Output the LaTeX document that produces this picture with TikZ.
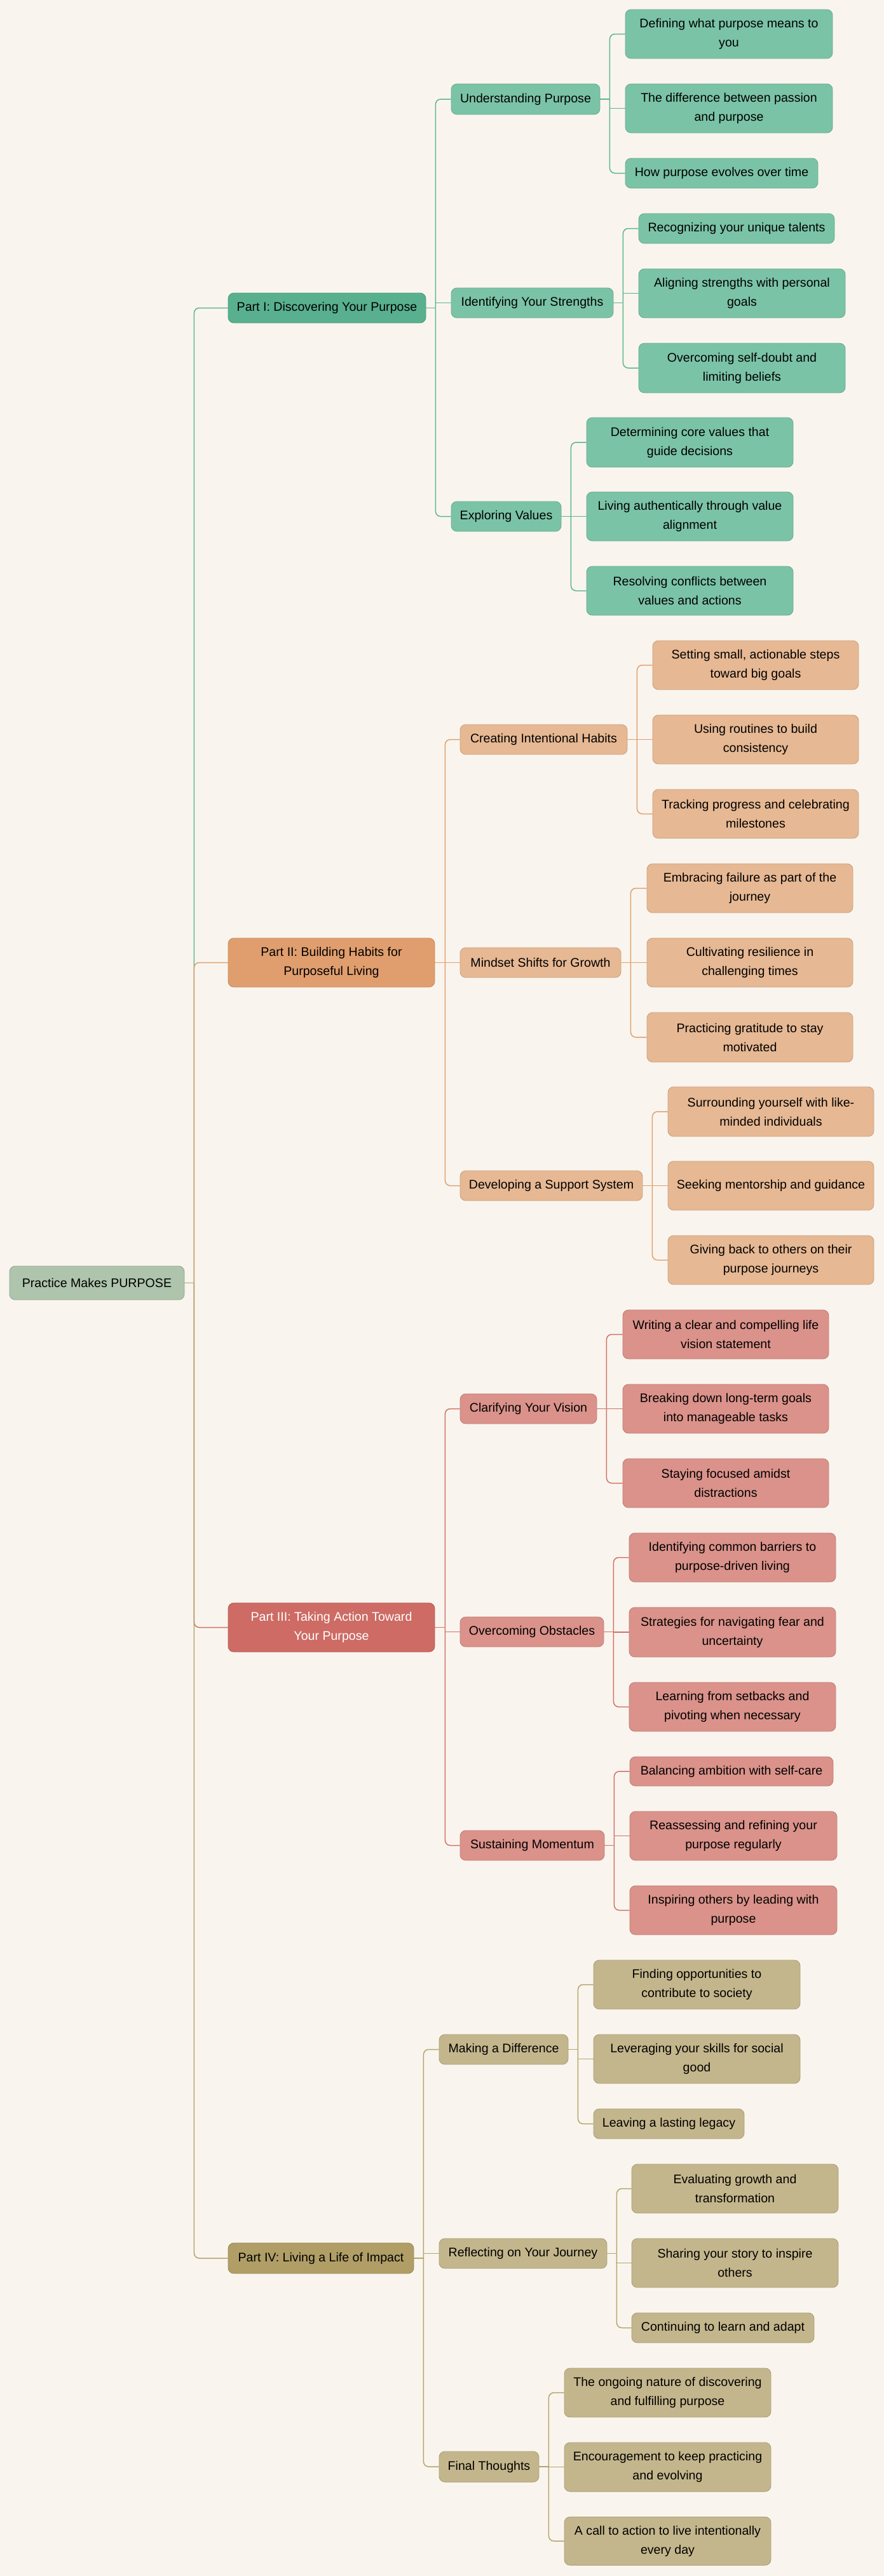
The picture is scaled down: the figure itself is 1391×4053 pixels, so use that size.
\documentclass[tikz,border=0pt]{standalone}
\usepackage{fontspec}
\setmainfont{Liberation Sans}
\usetikzlibrary{positioning}
\definecolor{bgc}{HTML}{F9F5EE}
\definecolor{rootF}{HTML}{AEC4AC}
\definecolor{gP}{HTML}{58B08E}
\definecolor{gC}{HTML}{7BC3A6}
\definecolor{gL}{HTML}{5DB592}
\definecolor{oP}{HTML}{E09E6E}
\definecolor{oC}{HTML}{E6B893}
\definecolor{oL}{HTML}{E0A06F}
\definecolor{rP}{HTML}{CD6B64}
\definecolor{rC}{HTML}{DA928A}
\definecolor{rL}{HTML}{D0716A}
\definecolor{yP}{HTML}{B09E66}
\definecolor{yC}{HTML}{C4B68C}
\definecolor{yL}{HTML}{B5A46D}
\pgfdeclarelayer{bg}
\pgfdeclarelayer{lines}
\pgfsetlayers{bg,lines,main}
\tikzset{
  box/.style={rounded corners=9pt, inner sep=0pt, align=center, line width=0.9pt,
    font=\fontsize{19.6}{30}\selectfont, text=black},
  rootbox/.style={box, fill=rootF, draw=rootF!85!black},
  gpart/.style={box, fill=gP, draw=gP!88!black},
  gchild/.style={box, fill=gC, draw=gC!88!black},
  opart/.style={box, fill=oP, draw=oP!88!black},
  ochild/.style={box, fill=oC, draw=oC!88!black},
  rpart/.style={box, fill=rP, draw=rP!88!black, text=white},
  rchild/.style={box, fill=rC, draw=rC!88!black},
  ypart/.style={box, fill=yP, draw=yP!88!black},
  ychild/.style={box, fill=yC, draw=yC!88!black},
  conn/.style={line width=1.5pt, rounded corners=8pt},
}
% name, xl, xr, yt, yb, style, text
\newcommand{\bx}[7]{\node[#6, minimum width={(#3)-(#2)}, minimum height={(#5)-(#4)}] (#1) at ({((#2)+(#3))/2},{((#4)+(#5))/2}) {#7};}
% parent, first, middle, last, color, stub length
\newcommand{\fan}[6]{%
  \draw[conn,#5] (#1.east) -- ++(#6,0);
  \draw[conn,#5] (#1.east) ++(#6,0) |- (#2.west);
  \draw[conn,#5] (#1.east) ++(#6,0) |- (#4.west);
  \draw[conn,#5] (#3.west) -- ++(-25,0);}
\begin{document}
\begin{tikzpicture}[x=1pt,y=-1pt]
\begin{pgfonlayer}{bg}
\fill[bgc] (0,0) rectangle (1391,4053);
\end{pgfonlayer}
\useasboundingbox (0,0) rectangle (1391,4053);

\bx{root}{15}{290}{1992}{2045}{rootbox}{Practice Makes PURPOSE}

% Part I
\bx{p1}{359}{670}{461}{508}{gpart}{Part I: Discovering Your Purpose}
\bx{up}{710}{944}{132}{180}{gchild}{Understanding Purpose}
\bx{up1}{984}{1310}{15}{92}{gchild}{Defining what purpose means to\\you}
\bx{up2}{984}{1310}{132}{209}{gchild}{The difference between passion\\and purpose}
\bx{up3}{984}{1287}{249}{296}{gchild}{How purpose evolves over time}
\bx{is}{710}{965}{453}{500}{gchild}{Identifying Your Strengths}
\bx{is1}{1005}{1313}{336}{383}{gchild}{Recognizing your unique talents}
\bx{is2}{1005}{1330}{423}{500}{gchild}{Aligning strengths with personal\\goals}
\bx{is3}{1005}{1330}{540}{618}{gchild}{Overcoming self-doubt and\\limiting beliefs}
\bx{ev}{710}{883}{789}{836}{gchild}{Exploring Values}
\bx{ev1}{923}{1248}{657}{735}{gchild}{Determining core values that\\guide decisions}
\bx{ev2}{923}{1248}{774}{851}{gchild}{Living authentically through value\\alignment}
\bx{ev3}{923}{1248}{891}{968}{gchild}{Resolving conflicts between\\values and actions}

% Part II
\bx{p2}{359}{684}{1476}{1553}{opart}{Part II: Building Habits for\\Purposeful Living}
\bx{ci}{724}{987}{1140}{1187}{ochild}{Creating Intentional Habits}
\bx{ci1}{1027}{1351}{1008}{1085}{ochild}{Setting small, actionable steps\\toward big goals}
\bx{ci2}{1027}{1351}{1125}{1202}{ochild}{Using routines to build\\consistency}
\bx{ci3}{1027}{1351}{1242}{1319}{ochild}{Tracking progress and celebrating\\milestones}
\bx{ms}{724}{977}{1491}{1538}{ochild}{Mindset Shifts for Growth}
\bx{ms1}{1018}{1342}{1359}{1436}{ochild}{Embracing failure as part of the\\journey}
\bx{ms2}{1018}{1342}{1476}{1553}{ochild}{Cultivating resilience in\\challenging times}
\bx{ms3}{1018}{1342}{1593}{1671}{ochild}{Practicing gratitude to stay\\motivated}
\bx{ds}{724}{1011}{1842}{1889}{ochild}{Developing a Support System}
\bx{ds1}{1051}{1375}{1710}{1788}{ochild}{Surrounding yourself with like-\\minded individuals}
\bx{ds2}{1051}{1375}{1827}{1904}{ochild}{Seeking mentorship and guidance}
\bx{ds3}{1051}{1375}{1944}{2021}{ochild}{Giving back to others on their\\purpose journeys}

% Part III
\bx{p3}{359}{684}{2522}{2599}{rpart}{Part III: Taking Action Toward\\Your Purpose}
\bx{cv}{724}{939}{2193}{2240}{rchild}{Clarifying Your Vision}
\bx{cv1}{980}{1304}{2061}{2138}{rchild}{Writing a clear and compelling life\\vision statement}
\bx{cv2}{980}{1304}{2178}{2255}{rchild}{Breaking down long-term goals\\into manageable tasks}
\bx{cv3}{980}{1304}{2295}{2372}{rchild}{Staying focused amidst\\distractions}
\bx{oo}{724}{950}{2544}{2591}{rchild}{Overcoming Obstacles}
\bx{oo1}{990}{1315}{2412}{2489}{rchild}{Identifying common barriers to\\purpose-driven living}
\bx{oo2}{990}{1315}{2529}{2607}{rchild}{Strategies for navigating fear and\\uncertainty}
\bx{oo3}{990}{1315}{2647}{2724}{rchild}{Learning from setbacks and\\pivoting when necessary}
\bx{sm}{724}{951}{2880}{2927}{rchild}{Sustaining Momentum}
\bx{sm1}{991}{1311}{2764}{2810}{rchild}{Balancing ambition with self-care}
\bx{sm2}{991}{1317}{2850}{2927}{rchild}{Reassessing and refining your\\purpose regularly}
\bx{sm3}{991}{1317}{2967}{3044}{rchild}{Inspiring others by leading with\\purpose}

% Part IV
\bx{p4}{359}{651}{3529}{3577}{ypart}{Part IV: Living a Life of Impact}
\bx{md}{691}{894}{3201}{3248}{ychild}{Making a Difference}
\bx{md1}{934}{1259}{3084}{3161}{ychild}{Finding opportunities to\\contribute to society}
\bx{md2}{934}{1259}{3201}{3278}{ychild}{Leveraging your skills for social\\good}
\bx{md3}{934}{1171}{3318}{3365}{ychild}{Leaving a lasting legacy}
\bx{rj}{691}{955}{3522}{3569}{ychild}{Reflecting on Your Journey}
\bx{rj1}{994}{1319}{3405}{3482}{ychild}{Evaluating growth and\\transformation}
\bx{rj2}{994}{1319}{3522}{3599}{ychild}{Sharing your story to inspire\\others}
\bx{rj3}{994}{1281}{3639}{3686}{ychild}{Continuing to learn and adapt}
\bx{ft}{691}{848}{3857}{3905}{ychild}{Final Thoughts}
\bx{ft1}{888}{1213}{3726}{3803}{ychild}{The ongoing nature of discovering\\and fulfilling purpose}
\bx{ft2}{888}{1213}{3843}{3920}{ychild}{Encouragement to keep practicing\\and evolving}
\bx{ft3}{888}{1213}{3960}{4036}{ychild}{A call to action to live intentionally\\every day}

\begin{pgfonlayer}{lines}
% Part I
\draw[conn,gL] (root.east) -- ++(15,0);
\draw[conn,gL] (root.east) ++(15,0) |- (p1.west);
\draw[conn,gL] (p1.east) -- ++(15,0);
\draw[conn,gL] (p1.east) ++(15,0) |- (up.west);
\draw[conn,gL] (p1.east) ++(15,0) |- (ev.west);
\draw[conn,gL] (is.west) -- ++(-25,0);
\fan{up}{up1}{up2}{up3}{gL}{15}
\fan{is}{is1}{is2}{is3}{gL}{15}
\fan{ev}{ev1}{ev2}{ev3}{gL}{15}
% Part II
\draw[conn,oL] (root.east) -- ++(15,0);
\draw[conn,oL] (root.east) ++(15,0) |- (p2.west);
\draw[conn,oL] (p2.east) -- ++(16,0);
\draw[conn,oL] (p2.east) ++(16,0) |- (ci.west);
\draw[conn,oL] (p2.east) ++(16,0) |- (ds.west);
\draw[conn,oL] (ms.west) -- ++(-24,0);
\fan{ci}{ci1}{ci2}{ci3}{oL}{15}
\fan{ms}{ms1}{ms2}{ms3}{oL}{15}
\fan{ds}{ds1}{ds2}{ds3}{oL}{15}
% Part III
\draw[conn,rL] (root.east) -- ++(15,0);
\draw[conn,rL] (root.east) ++(15,0) |- (p3.west);
\draw[conn,rL] (p3.east) -- ++(16,0);
\draw[conn,rL] (p3.east) ++(16,0) |- (cv.west);
\draw[conn,rL] (p3.east) ++(16,0) |- (sm.west);
\draw[conn,rL] (oo.west) -- ++(-24,0);
\fan{cv}{cv1}{cv2}{cv3}{rL}{15}
\fan{oo}{oo1}{oo2}{oo3}{rL}{15}
\fan{sm}{sm1}{sm2}{sm3}{rL}{15}
% Part IV
\draw[conn,yL] (root.east) -- ++(15,0);
\draw[conn,yL] (root.east) ++(15,0) |- (p4.west);
\draw[conn,yL] (p4.east) -- ++(15,0);
\draw[conn,yL] (p4.east) ++(15,0) |- (md.west);
\draw[conn,yL] (p4.east) ++(15,0) |- (ft.west);
\draw[conn,yL] (rj.west) -- ++(-25,0);
\fan{md}{md1}{md2}{md3}{yL}{15}
\fan{rj}{rj1}{rj2}{rj3}{yL}{15}
\fan{ft}{ft1}{ft2}{ft3}{yL}{15}
\end{pgfonlayer}
\end{tikzpicture}
\end{document}
